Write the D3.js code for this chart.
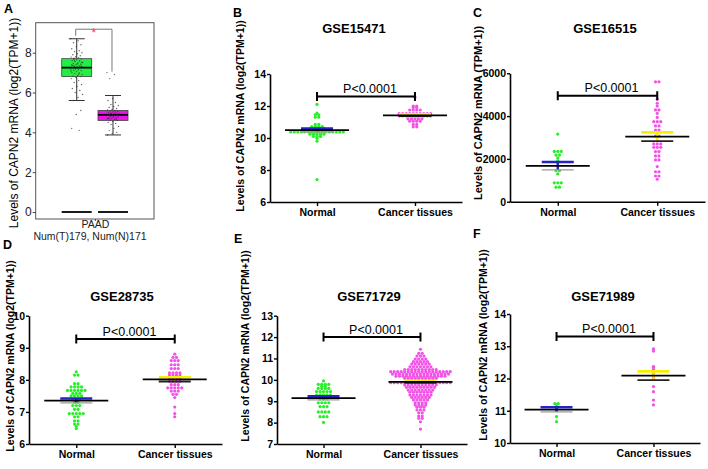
<!DOCTYPE html>
<html>
<head>
<meta charset="utf-8">
<script src="https://cdn.jsdelivr.net/npm/d3@7"></script>
<style>
  body { margin: 0; background: #fff; }
  svg { display: block; font-family: "Liberation Sans", Arial, Helvetica, sans-serif; }
</style>
</head>
<body>
<svg id="fig" width="708" height="469"></svg>
<script>
// ---- data ----
const categories = ["Normal", "Cancer tissues"];

// A: GEPIA box plot, PAAD
const paadGroups = ["T", "N"];
const paadQ1 = [6.8, 4.6];
const paadMedian = [7.25, 4.88];
const paadQ3 = [7.7, 5.1];
const paadLow = [5.6, 3.87];
const paadHigh = [8.7, 5.85];
const paadTicks = [0, 2, 4, 6, 8];
const paadT = [8.7, 8.6, 8.5, 8.4, 8.3, 8.2, 8.1, 8.05, 8.0, 7.95, 7.9, 7.85, 7.8, 7.78, 7.75, 7.72, 7.7, 7.65, 7.6, 7.58,
  7.55, 7.5, 7.48, 7.45, 7.42, 7.4, 7.38, 7.35, 7.32, 7.3, 7.28, 7.25, 7.22, 7.2, 7.18, 7.15, 7.12, 7.1, 7.05, 7.0,
  6.98, 6.95, 6.9, 6.85, 6.82, 6.8, 6.75, 6.7, 6.6, 6.5, 6.4, 6.3, 6.2, 6.1, 6.0, 5.9, 5.75, 5.6, 5.1, 4.9, 4.2, 4.1,
  7.62, 7.52, 7.44, 7.36, 7.27, 7.19, 7.08, 6.92, 7.68, 7.33];
const paadN = [7.0, 6.9, 6.7, 5.85, 5.7, 5.6, 5.5, 5.4, 5.35, 5.3, 5.25, 5.2, 5.15, 5.12, 5.1, 5.08, 5.05, 5.02, 5.0, 4.98,
  4.96, 4.94, 4.92, 4.9, 4.88, 4.87, 4.85, 4.83, 4.8, 4.78, 4.76, 4.74, 4.72, 4.7, 4.68, 4.65, 4.62, 4.6, 4.55, 4.5,
  4.45, 4.4, 4.3, 4.2, 4.1, 4.0, 3.95, 3.87, 5.03, 4.95, 4.86, 4.79, 4.71, 4.66];

// B: GSE15471
const bTicks = [6, 8, 10, 12, 14];
const bNormal = [12.1, 11.55, 11.45, 11.45, 11.3, 11.3, 10.85, 10.85, 10.72, 10.72, 10.72, 10.72,
  10.58, 10.58, 10.58, 10.58, 10.58,
  10.38, 10.38, 10.38, 10.38, 10.38, 10.38, 10.38, 10.38, 10.38, 10.38, 10.38, 10.38, 10.38, 10.38, 10.38, 10.38,
  10.24, 10.24, 10.24, 10.24, 10.24, 10.1, 10.1, 10.1, 9.98, 9.8, 7.4];
const bCancer = [12.55, 12.0, 12.0, 11.9, 11.9, 11.75, 11.75, 11.75, 11.75,
  11.52, 11.52, 11.52, 11.52, 11.52, 11.52, 11.52, 11.52, 11.52, 11.52,
  11.38, 11.38, 11.38, 11.38, 11.38, 11.38, 11.38, 11.38, 11.38, 11.38,
  11.2, 11.2, 11.2, 11.2, 11.2, 11.05, 11.05, 11.05, 11.05, 10.85, 10.85, 10.7, 10.7];

// C: GSE16515
const cTicks = [0, 2000, 4000, 6000];
const cNormal = [3160, 2350, 2350, 2350, 2180, 2180, 2050, 1920, 1450, 1450, 1300, 880, 880, 880, 680, 680];
const cCancer = [5600, 5600, 4790, 4600, 4470, 4290, 4290, 4130, 3940, 3740, 3740, 3740, 3540, 3540, 3350, 3350,
  3070, 3070, 2700, 2700, 2700, 2540, 2540, 2540, 2340, 2340, 2140, 2140, 1950, 1950, 1640, 1400, 1400, 1200, 1200, 1050];

// D: GSE28735
const dTicks = [6, 7, 8, 9, 10];
const dNormal = [8.25, 8.15, 8.15, 7.88, 7.88, 7.78, 7.78, 7.78, 7.78, 7.67, 7.67, 7.67, 7.67, 7.67, 7.67,
  7.58, 7.58, 7.58, 7.5, 7.5, 7.5, 7.5, 7.38, 7.38, 7.38, 7.3, 7.3, 7.2, 7.2, 7.2, 7.08, 7.08,
  6.95, 6.95, 6.95, 6.95, 6.95, 6.85, 6.85, 6.72, 6.72, 6.62, 6.62, 6.55, 6.48];
const dCancer = [8.8, 8.7, 8.7, 8.6, 8.6, 8.6, 8.47, 8.47, 8.47, 8.35, 8.35, 8.35, 8.22, 8.22, 8.22, 8.22,
  8.15, 8.15, 8.15, 8.15, 8.05, 8.05, 8.05, 8.05, 7.95, 7.95, 7.95, 7.95, 7.85, 7.85, 7.85,
  7.75, 7.75, 7.75, 7.75, 7.75, 7.65, 7.65, 7.65, 7.55, 7.55, 7.45, 7.15, 6.95, 6.85];

// E: GSE71729
const eTicks = [7, 8, 9, 10, 11, 12, 13];
const eNormal = [9.95, 9.79, 9.79, 9.79, 9.79, 9.7, 9.7, 9.6, 9.6, 9.6, 9.6, 9.45, 9.45, 9.45, 9.45, 9.45,
  9.29, 9.29, 9.29, 9.29, 9.29, 9.2, 9.1, 9.1, 9.1, 8.93, 8.93, 8.93, 8.93, 8.75, 8.75, 8.75,
  8.5, 8.5, 8.5, 8.5, 8.28, 8.28, 8.28, 8.01];
const eCancer = [11.43, 11.24, 11.24, 11.11, 11.11, 11.11, 10.97, 10.97, 10.97, 10.97,
  10.85, 10.85, 10.85, 10.85, 10.85, 10.74, 10.74, 10.74, 10.74, 10.74, 10.74,
  10.61, 10.61, 10.61, 10.61, 10.61, 10.61, 10.61,
  10.48, 10.48, 10.48, 10.48, 10.48, 10.48, 10.48, 10.48, 10.48, 10.48,
  10.38, 10.38, 10.38, 10.38, 10.38, 10.38, 10.38, 10.38, 10.38, 10.38, 10.38, 10.38, 10.38, 10.38, 10.38, 10.38, 10.38, 10.38,
  10.27, 10.27, 10.27, 10.27, 10.27, 10.27, 10.27, 10.27, 10.27, 10.27, 10.27, 10.27, 10.27, 10.27, 10.27, 10.27, 10.27,
  10.17, 10.17, 10.17, 10.17, 10.17, 10.17, 10.17, 10.17, 10.17, 10.17, 10.17, 10.17, 10.17, 10.17, 10.17,
  10.07, 10.07, 10.07, 10.07, 10.07, 10.07, 10.07, 10.07, 10.07, 10.07,
  9.97, 9.97, 9.97, 9.97, 9.97, 9.97, 9.97, 9.97,
  9.87, 9.87, 9.87, 9.87, 9.87, 9.87, 9.87, 9.87, 9.87, 9.87, 9.87, 9.87, 9.87, 9.87, 9.87, 9.87, 9.87, 9.87,
  9.76, 9.76, 9.76, 9.76, 9.76, 9.76, 9.76, 9.76, 9.76, 9.76,
  9.65, 9.65, 9.65, 9.65, 9.65, 9.65, 9.65, 9.65, 9.65,
  9.52, 9.52, 9.52, 9.52, 9.52, 9.52, 9.52, 9.52,
  9.42, 9.42, 9.42, 9.42, 9.42, 9.42, 9.42,
  9.29, 9.29, 9.29, 9.29, 9.29, 9.29, 9.29,
  9.18, 9.18, 9.18, 9.18, 9.18, 9.18,
  9.06, 9.06, 9.06, 9.06, 9.06, 8.93, 8.93, 8.93, 8.93, 8.82, 8.82, 8.82, 8.82,
  8.72, 8.72, 8.72, 8.59, 8.59, 8.59, 8.46, 8.46, 8.31, 8.31, 8.2, 8.2, 8.04, 7.7];

// F: GSE71989
const fTicks = [10, 11, 12, 13, 14];
const fNormal = [11.22, 11.22, 11.2, 11.13, 11.04, 11.0, 10.82, 10.66];
const fCancer = [12.92, 12.85, 12.37, 12.35, 12.28, 12.2, 12.18, 12.16, 12.05, 12.0, 11.75, 11.59, 11.33, 11.18];

const pText = "P<0.0001";
const labelLog = "Levels of CAPN2 mRNA (log2(TPM+1))";
const labelTpm = "Levels of CAPN2 mRNA (TPM+1))";

// ---- layout ----
const panels = [
  { letter: "B", lx: 233, ly: 17, title: "GSE15471", tx: 354, ty: 33, x0: 270, x1: 462, yBot: 202, yTop: 74,
    domain: [6, 14], ticks: bTicks, groups: [bNormal, bCancer], sig: 12.6, labX: 244, labY: 116, labSize: 10.5, label: labelLog },
  { letter: "C", lx: 473, ly: 17, title: "GSE16515", tx: 605, ty: 33, x0: 510, x1: 705, yBot: 201.7, yTop: 73.3,
    domain: [0, 6000], ticks: cTicks, groups: [cNormal, cCancer], sig: 4950, labX: 482, labY: 113, labSize: 11, label: labelTpm },
  { letter: "D", lx: 3, ly: 249, title: "GSE28735", tx: 122, ty: 301, x0: 29, x1: 222, yBot: 444, yTop: 315.7,
    domain: [6, 10], ticks: dTicks, groups: [dNormal, dCancer], sig: 9.27, labX: 14, labY: 356, labSize: 10.5, label: labelLog },
  { letter: "E", lx: 234, ly: 243, title: "GSE71729", tx: 369, ty: 301, x0: 277, x1: 467, yBot: 444, yTop: 315.7,
    domain: [7, 13], ticks: eTicks, groups: [eNormal, eCancer], sig: 12.0, labX: 249, labY: 346, labSize: 10.5, label: labelLog },
  { letter: "F", lx: 473, ly: 238, title: "GSE71989", tx: 603, ty: 301, x0: 510, x1: 700, yBot: 443, yTop: 314,
    domain: [10, 14], ticks: fTicks, groups: [fNormal, fCancer], sig: 13.3, labX: 487, labY: 345, labSize: 10.5, label: labelLog }
];

const dotColor = ["#26f026", "#f252e6"];
const upColor = ["#2323c8", "#f5f000"];
const lowColor = ["#9a9a9a", "#222"];

const svg = d3.select("#fig");

function swarm(values, spacing) {
  const rows = d3.rollup(values, v => v.length, d => d);
  const out = [];
  rows.forEach((n, v) => {
    for (let i = 0; i < n; i++) out.push({ v: v, dx: (i - (n - 1) / 2) * spacing });
  });
  return out;
}

function styleAxis(sel, size, bold) {
  sel.select(".domain").attr("stroke", "#000").attr("stroke-width", 1.6);
  sel.selectAll(".tick line").attr("stroke", "#000").attr("stroke-width", 1.4);
  sel.selectAll(".tick text").attr("fill", "#000").style("font-size", size + "px")
    .style("font-weight", bold ? "bold" : "normal").style("font-family", "inherit");
}

function drawPanel(p) {
  const g = svg.append("g");
  const x = d3.scalePoint().domain(categories).range([p.x0, p.x1]).padding(0.48);
  const y = d3.scaleLinear().domain(p.domain).range([p.yBot, p.yTop]);

  g.append("text").attr("x", p.lx).attr("y", p.ly).text(p.letter)
    .style("font-size", "12.5px").style("font-weight", "bold");
  g.append("text").attr("x", p.tx).attr("y", p.ty).attr("text-anchor", "middle").text(p.title)
    .style("font-size", "13px").style("font-weight", "bold");
  g.append("text").attr("transform", `translate(${p.labX},${p.labY}) rotate(-90)`)
    .attr("text-anchor", "middle").text(p.label)
    .style("font-size", p.labSize + "px").style("font-weight", "bold");

  const ya = g.append("g").attr("transform", `translate(${p.x0},0)`)
    .call(d3.axisLeft(y).tickValues(p.ticks).tickSize(3).tickSizeOuter(0).tickPadding(1).tickFormat(d3.format("d")));
  styleAxis(ya, 10.5, true);
  const xa = g.append("g").attr("transform", `translate(0,${p.yBot})`)
    .call(d3.axisBottom(x).tickSize(4).tickSizeOuter(0).tickPadding(3));
  styleAxis(xa, 10.5, true);

  p.groups.forEach((vals, i) => {
    const cx = x(categories[i]);
    g.append("g").selectAll("circle")
      .data(swarm(vals, 3.5))
      .join("circle")
      .attr("cx", d => cx + d.dx)
      .attr("cy", d => y(d.v))
      .attr("r", 1.6)
      .attr("fill", dotColor[i]);
  });

  p.groups.forEach((vals, i) => {
    const cx = x(categories[i]);
    const m = d3.mean(vals);
    const se = d3.deviation(vals) / Math.sqrt(vals.length);
    g.append("line").attr("x1", cx).attr("x2", cx).attr("y1", y(m - se)).attr("y2", y(m + se))
      .attr("stroke", upColor[i]).attr("stroke-width", 2.4);
    g.append("line").attr("x1", cx - 16).attr("x2", cx + 16).attr("y1", y(m - se)).attr("y2", y(m - se))
      .attr("stroke", lowColor[i]).attr("stroke-width", i === 0 ? 1.2 : 1.8);
    g.append("line").attr("x1", cx - 16).attr("x2", cx + 16).attr("y1", y(m + se)).attr("y2", y(m + se))
      .attr("stroke", upColor[i]).attr("stroke-width", 2.6);
    g.append("line").attr("x1", cx - 32).attr("x2", cx + 32).attr("y1", y(m)).attr("y2", y(m))
      .attr("stroke", "#000").attr("stroke-width", 1.7);
  });

  // significance bar
  const sx0 = x(categories[0]), sx1 = x(categories[1]), sy = y(p.sig);
  g.append("path")
    .attr("d", `M${sx0},${sy}H${sx1}M${sx0},${sy - 4.5}V${sy + 4.5}M${sx1},${sy - 4.5}V${sy + 4.5}`)
    .attr("stroke", "#000").attr("stroke-width", 2).attr("fill", "none");
  g.append("text").attr("x", (sx0 + sx1) / 2 + 4).attr("y", sy - 3.5).attr("text-anchor", "middle")
    .text(pText).style("font-size", "12.5px");
}

function drawPanelA() {
  const g = svg.append("g");
  const left = 35.7, right = 154, top = 22.7, bottom = 219;
  const x = d3.scalePoint().domain(paadGroups).range([left, right]).padding(1.13);
  const y = d3.scaleLinear().domain([0, 8]).range([212, 52.7]);
  const boxFill = ["#22ee44", "#ee11ee"];
  const bw = 30;

  g.append("text").attr("x", 4).attr("y", 13).text("A")
    .style("font-size", "12.5px").style("font-weight", "bold");
  g.append("text").attr("transform", "translate(18,123) rotate(-90)").attr("text-anchor", "middle")
    .text(labelLog).style("font-size", "12px");

  g.append("rect").attr("x", left).attr("y", top).attr("width", right - left).attr("height", bottom - top)
    .attr("fill", "none").attr("stroke", "#555").attr("stroke-width", 1);

  const ya = g.append("g").attr("transform", `translate(${left},0)`)
    .call(d3.axisLeft(y).tickValues(paadTicks).tickSize(3).tickPadding(1));
  ya.select(".domain").remove();
  ya.selectAll(".tick line").attr("stroke", "#444");
  ya.selectAll(".tick text").attr("fill", "#222").style("font-size", "12px").style("font-family", "inherit");

  const xa = g.append("g").attr("transform", `translate(0,${bottom})`)
    .call(d3.axisBottom(d3.scalePoint().domain(["PAAD"]).range([left, right]).padding(0.5)).tickSize(2).tickPadding(0));
  xa.select(".domain").remove();
  xa.selectAll(".tick line").attr("stroke", "#444");
  xa.selectAll(".tick text").attr("fill", "#222").style("font-size", "10.5px").style("font-family", "inherit");
  g.append("text").attr("x", 90).attr("y", 240).attr("text-anchor", "middle")
    .text("Num(T)179, Num(N)171").style("font-size", "10.5px").attr("fill", "#222");

  paadGroups.forEach((k, i) => {
    const cx = x(k);
    // whiskers
    g.append("path")
      .attr("d", `M${cx},${y(paadHigh[i])}V${y(paadQ3[i])}M${cx},${y(paadQ1[i])}V${y(paadLow[i])}` +
        `M${cx - 8},${y(paadHigh[i])}H${cx + 8}M${cx - 8},${y(paadLow[i])}H${cx + 8}`)
      .attr("stroke", "#333").attr("stroke-width", 1).attr("fill", "none");
    g.append("rect").attr("x", cx - bw / 2).attr("y", y(paadQ3[i])).attr("width", bw)
      .attr("height", y(paadQ1[i]) - y(paadQ3[i])).attr("fill", boxFill[i]).attr("stroke", "#444").attr("stroke-width", 0.8);
    g.append("line").attr("x1", cx - bw / 2).attr("x2", cx + bw / 2).attr("y1", y(paadMedian[i])).attr("y2", y(paadMedian[i]))
      .attr("stroke", "#000").attr("stroke-width", 1.8);
    // zero line
    g.append("line").attr("x1", cx - bw / 2).attr("x2", cx + bw / 2).attr("y1", y(0)).attr("y2", y(0))
      .attr("stroke", "#000").attr("stroke-width", 1.8);
  });

  [paadT, paadN].forEach((vals, i) => {
    const cx = x(paadGroups[i]);
    g.append("g").selectAll("circle")
      .data(vals)
      .join("circle")
      .attr("cx", (d, j) => cx + (((j * 0.618034) % 1) - 0.5) * 12)
      .attr("cy", d => y(d))
      .attr("r", 0.7)
      .attr("fill", "#333")
      .attr("opacity", 0.75);
  });

  // significance bracket
  const bx0 = x(paadGroups[0]) - 1, bx1 = x(paadGroups[1]) - 1;
  g.append("path")
    .attr("d", `M${bx0},${y(8.85)}V${y(9.18)}H${bx1}V${y(7.05)}`)
    .attr("stroke", "#777").attr("stroke-width", 1).attr("fill", "none");
  g.append("text").attr("x", (bx0 + bx1) / 2).attr("y", 37).attr("text-anchor", "middle")
    .text("*").attr("fill", "#ff3b3b").style("font-size", "12px");
}

drawPanelA();
panels.forEach(drawPanel);
</script>
</body>
</html>
